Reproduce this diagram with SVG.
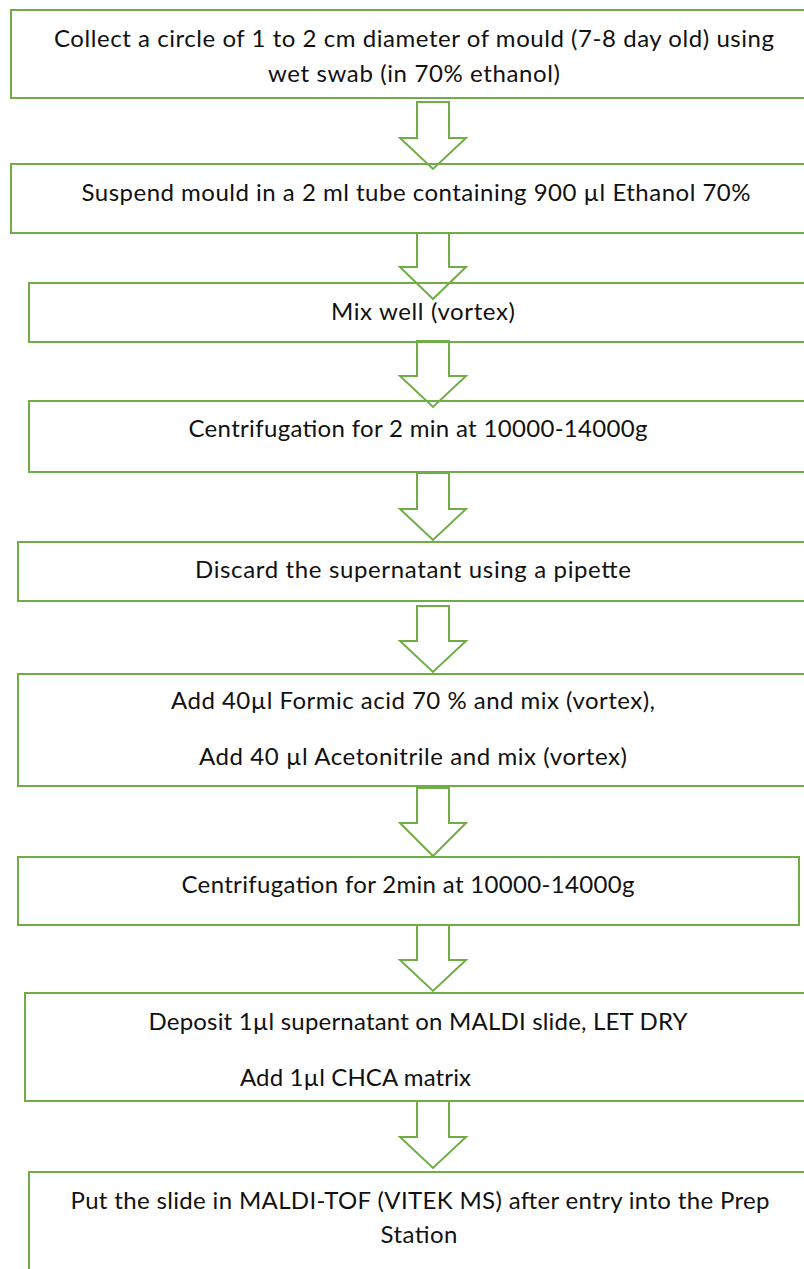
<svg xmlns="http://www.w3.org/2000/svg" width="804" height="1269" viewBox="0 0 804 1269">
<style>
.box{fill:none;stroke:#70AD47;stroke-width:2}
.arr{fill:none;stroke:#70AD47;stroke-width:2;stroke-linejoin:miter}
text{font-family:Lato,"Liberation Sans",sans-serif;font-size:24px;fill:#111;text-anchor:middle}
</style>
<rect width="804" height="1269" fill="#fff"/>
<g id="connectors">
<path class="arr" d="M417,102 V138 H400 L433,169 L466,138 H449 V102 Z"/>
<path class="arr" d="M417,233 V267 H400 L433,299 L466,267 H449 V233 Z"/>
<path class="arr" d="M417,341 V376 H400 L433,407 L466,376 H449 V341 Z"/>
<path class="arr" d="M417,473 V509 H400 L433,540 L466,509 H449 V473 Z"/>
<path class="arr" d="M417,606 V641 H400 L433,672 L466,641 H449 V606 Z"/>
<path class="arr" d="M417,788 V823 H400 L433,856 L466,823 H449 V788 Z"/>
<path class="arr" d="M417,925 V960 H400 L433,991 L466,960 H449 V925 Z"/>
<path class="arr" d="M417,1101 V1137 H400 L433,1168 L466,1137 H449 V1101 Z"/>
</g>
<g id="n1">
<rect class="box" x="11" y="10" width="830" height="88"/>
<text x="414" y="47" textLength="720">Collect a circle of 1 to 2 cm diameter of mould (7-8 day old) using</text>
<text x="414" y="82" textLength="292">wet swab (in 70% ethanol)</text>
</g>
<g id="n2">
<rect class="box" x="11" y="164" width="830" height="69"/>
<text x="416" y="201" textLength="669">Suspend mould in a 2 ml tube containing 900 µl Ethanol 70%</text>
</g>
<g id="n3">
<rect class="box" x="29" y="283" width="830" height="59"/>
<text x="423" y="320" textLength="184">Mix well (vortex)</text>
</g>
<g id="n4">
<rect class="box" x="29" y="401" width="830" height="71"/>
<text x="418" y="437" textLength="459">Centrifugation for 2 min at 10000-14000g</text>
</g>
<g id="n5">
<rect class="box" x="18" y="542" width="830" height="59"/>
<text x="413" y="578" textLength="436">Discard the supernatant using a pipette</text>
</g>
<g id="n6">
<rect class="box" x="18" y="674" width="830" height="112"/>
<text x="413" y="709" textLength="484">Add 40µl Formic acid 70 % and mix (vortex),</text>
<text x="413" y="765" textLength="428">Add 40 µl Acetonitrile and mix (vortex)</text>
</g>
<g id="n7">
<rect class="box" x="18" y="857" width="781" height="68"/>
<text x="408" y="893" textLength="453">Centrifugation for 2min at 10000-14000g</text>
</g>
<g id="n8">
<rect class="box" x="25" y="993" width="830" height="108"/>
<text x="418" y="1030" textLength="539">Deposit 1µl supernatant on MALDI slide, LET DRY</text>
<text x="240" y="1086" textLength="231" style="text-anchor:start">Add 1µl CHCA matrix</text>
</g>
<g id="n9">
<rect class="box" x="29" y="1172" width="830" height="130"/>
<text x="420" y="1209" textLength="699">Put the slide in MALDI-TOF (VITEK MS) after entry into the Prep</text>
<text x="419" y="1243" textLength="77">Station</text>
</g>
</svg>
